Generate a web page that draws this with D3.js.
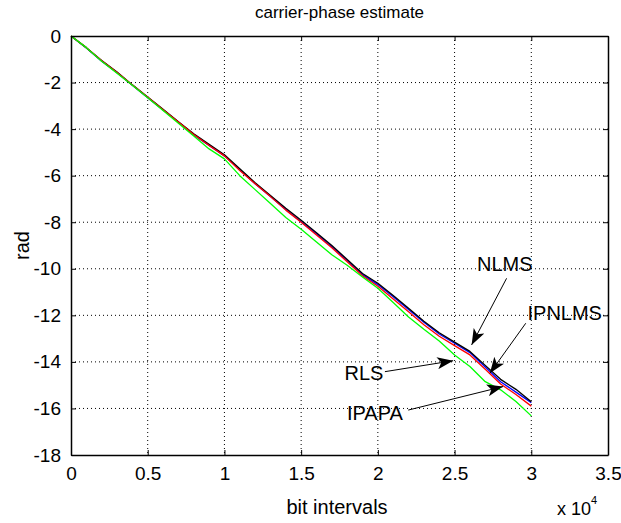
<!DOCTYPE html>
<html>
<head>
<meta charset="utf-8">
<script src="https://cdn.jsdelivr.net/npm/d3@7"></script>
<style>
  body { margin: 0; background: #fff; }
  text { font-family: "Liberation Sans", Arial, Helvetica, sans-serif; fill: #000; }
</style>
</head>
<body>
<div id="chart"></div>
<script>
// bit intervals (x 10^4)
const xVals = [0, 0.1, 0.2, 0.3, 0.4, 0.5, 0.6, 0.7, 0.8, 0.9, 1.0,
  1.1, 1.2, 1.3, 1.4, 1.5, 1.6, 1.7, 1.8, 1.9, 2.0,
  2.1, 2.2, 2.3, 2.4, 2.5, 2.6, 2.7, 2.8, 2.9, 3.0];

// carrier-phase estimate per algorithm (rad)
const nlms = [0, -0.5, -1.05, -1.55, -2.1, -2.62, -3.15, -3.68, -4.2, -4.65, -5.1,
  -5.7, -6.3, -6.85, -7.4, -7.92, -8.45, -9.0, -9.6, -10.2, -10.62,
  -11.15, -11.7, -12.25, -12.75, -13.15, -13.55, -14.15, -14.75, -15.18, -15.71];
const ipnlms = [0, -0.52, -1.08, -1.58, -2.12, -2.65, -3.18, -3.7, -4.25, -4.7, -5.15,
  -5.75, -6.35, -6.9, -7.45, -7.98, -8.5, -9.05, -9.65, -10.25, -10.68,
  -11.2, -11.75, -12.3, -12.8, -13.2, -13.6, -14.22, -14.85, -15.3, -15.75];
const rls = [0, -0.5, -1.06, -1.57, -2.1, -2.63, -3.17, -3.7, -4.23, -4.7, -5.15,
  -5.78, -6.35, -6.9, -7.48, -8.0, -8.55, -9.1, -9.7, -10.3, -10.75,
  -11.3, -11.85, -12.4, -12.9, -13.3, -13.7, -14.32, -14.95, -15.4, -15.9];
const ipapa = [0, -0.5, -1.08, -1.6, -2.12, -2.65, -3.2, -3.75, -4.3, -4.85, -5.28,
  -6.0, -6.6, -7.2, -7.8, -8.3, -8.85, -9.4, -9.85, -10.35, -10.84,
  -11.45, -12.07, -12.6, -13.1, -13.7, -14.2, -14.85, -15.2, -15.7, -16.32];

const xTicks = [0, 0.5, 1, 1.5, 2, 2.5, 3, 3.5];
const yTicks = [0, -2, -4, -6, -8, -10, -12, -14, -16, -18];

const series = [
  { name: "IPNLMS", values: ipnlms, color: "#0000ff" },
  { name: "NLMS", values: nlms, color: "#000000" },
  { name: "RLS", values: rls, color: "#ff0000" },
  { name: "IPAPA", values: ipapa, color: "#00ff00" }
];

// annotation labels (data units) with arrow tail/tip
const notes = [
  { label: "NLMS", tx: 2.827, ty: -10.1, x1: 2.839, y1: -10.41, x2: 2.611, y2: -13.27 },
  { label: "IPNLMS", tx: 3.218, ty: -12.2, x1: 2.964, y1: -12.34, x2: 2.73, y2: -14.49 },
  { label: "RLS", tx: 1.909, ty: -14.78, x1: 2.046, y1: -14.42, x2: 2.491, y2: -13.95 },
  { label: "IPAPA", tx: 1.981, ty: -16.49, x1: 2.198, y1: -16.07, x2: 2.816, y2: -15.06 }
];

const W = 621, H = 523;
const margin = { top: 36, right: 13, bottom: 68, left: 71 };
const width = W - margin.left - margin.right;
const height = H - margin.top - margin.bottom;

const svg = d3.select("#chart").append("svg")
  .attr("width", W)
  .attr("height", H);

const defs = svg.append("defs");
defs.append("marker")
  .attr("id", "head")
  .attr("viewBox", "0 0 16 12")
  .attr("refX", 16).attr("refY", 6)
  .attr("markerWidth", 16).attr("markerHeight", 12)
  .attr("markerUnits", "userSpaceOnUse")
  .attr("orient", "auto")
  .append("path")
  .attr("d", "M0,0 L16,6 L0,12 L4,6 Z")
  .attr("fill", "#000");

const g = svg.append("g")
  .attr("transform", "translate(" + margin.left + "," + margin.top + ")");

const x = d3.scaleLinear().domain([0, 3.5]).range([0, width]);
const y = d3.scaleLinear().domain([-18, 0]).range([height, 0]);

// grid
g.append("g").selectAll("line")
  .data(xTicks.slice(1, -1))
  .join("line")
  .attr("x1", d => x(d)).attr("x2", d => x(d))
  .attr("y1", 0).attr("y2", height)
  .attr("stroke", "#000").attr("stroke-width", 1)
  .attr("stroke-dasharray", "1,3");
g.append("g").selectAll("line")
  .data(yTicks.slice(1, -1))
  .join("line")
  .attr("x1", 0).attr("x2", width)
  .attr("y1", d => y(d)).attr("y2", d => y(d))
  .attr("stroke", "#000").attr("stroke-width", 1)
  .attr("stroke-dasharray", "1,3");

// lines
const line = d3.line()
  .x((d, i) => x(xVals[i]))
  .y(d => y(d));

g.selectAll(".series")
  .data(series)
  .join("path")
  .attr("class", "series")
  .attr("d", d => line(d.values))
  .attr("fill", "none")
  .attr("stroke", d => d.color)
  .attr("stroke-width", 1.3)
  .attr("stroke-linejoin", "round");

// axes, ticks inside like matlab; plain hyphen for negatives
const fmt = d => String(d);
const xAxis = g.append("g")
  .attr("transform", "translate(0," + height + ")")
  .call(d3.axisBottom(x).tickValues(xTicks).tickSizeInner(-5).tickSizeOuter(0).tickPadding(12)
    .tickFormat(fmt));
const yAxis = g.append("g")
  .call(d3.axisLeft(y).tickValues(yTicks).tickSizeInner(-5).tickSizeOuter(0).tickPadding(10)
    .tickFormat(fmt));
const xTop = g.append("g")
  .call(d3.axisTop(x).tickValues(xTicks).tickSizeInner(-5).tickSizeOuter(0).tickFormat(""));
const yRight = g.append("g")
  .attr("transform", "translate(" + width + ",0)")
  .call(d3.axisRight(y).tickValues(yTicks).tickSizeInner(-5).tickSizeOuter(0).tickFormat(""));

[xAxis, yAxis, xTop, yRight].forEach(a => {
  a.select(".domain").attr("stroke", "#000").attr("stroke-width", 1.5);
  a.selectAll(".tick line").attr("stroke", "#000");
  a.selectAll("text")
    .style("font-family", "'Liberation Sans', Arial, sans-serif")
    .style("font-size", "19px")
    .attr("fill", "#000");
});
xAxis.selectAll("text").attr("dy", "0.71em");

// annotations
notes.forEach(n => {
  g.append("line")
    .attr("x1", x(n.x1)).attr("y1", y(n.y1))
    .attr("x2", x(n.x2)).attr("y2", y(n.y2))
    .attr("stroke", "#000").attr("stroke-width", 1)
    .attr("marker-end", "url(#head)");
  g.append("text")
    .attr("x", x(n.tx)).attr("y", y(n.ty))
    .attr("text-anchor", "middle")
    .style("font-size", "20px")
    .text(n.label);
});

// titles
svg.append("text")
  .attr("x", margin.left + width / 2).attr("y", 18)
  .attr("text-anchor", "middle")
  .style("font-size", "17px")
  .text("carrier-phase estimate");

svg.append("text")
  .attr("transform", "translate(29," + (margin.top + height / 2) + ") rotate(-90)")
  .attr("text-anchor", "middle")
  .style("font-size", "20px")
  .text("rad");

svg.append("text")
  .attr("x", 337).attr("y", 514)
  .attr("text-anchor", "middle")
  .style("font-size", "20px")
  .text("bit intervals");

const mult = svg.append("text")
  .attr("x", 557).attr("y", 515)
  .style("font-size", "18px");
mult.append("tspan").text("x 10");
mult.append("tspan").attr("dy", -11).style("font-size", "11px").text("4");
</script>
</body>
</html>
